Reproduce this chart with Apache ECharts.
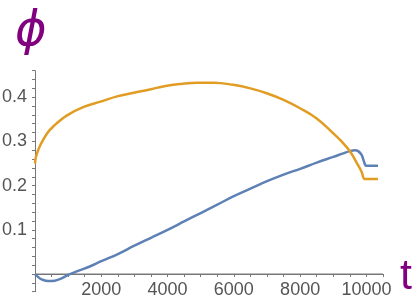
<!DOCTYPE html>
<html>
<head>
<meta charset="utf-8">
<script src="https://cdn.jsdelivr.net/npm/echarts@6/dist/echarts.min.js"></script>
<style>html,body{margin:0;padding:0;background:#fff}#c{width:417px;height:304px}</style>
</head>
<body>
<div id="c"></div>
<script>
// Blue series (phi_1)
const blueT = [0, 100, 200, 400, 600, 800, 1000, 1300, 1650, 2000, 2500, 3000, 3500, 4000, 4500, 5000, 5500, 6000, 6500, 7000, 7500, 8000, 8500, 9000, 9300, 9500, 9650, 9750, 9850, 9920, 9970, 10000, 10350];
const blueV = [0, -0.007, -0.012, -0.016, -0.015, -0.010, -0.002, 0.007, 0.017, 0.029, 0.045, 0.064, 0.082, 0.100, 0.119, 0.138, 0.157, 0.176, 0.193, 0.210, 0.225, 0.238, 0.252, 0.265, 0.273, 0.278, 0.280, 0.278, 0.270, 0.256, 0.246, 0.245, 0.245];
// Orange series (phi_2)
const orangeT = [0, 20, 60, 163, 363, 565, 967, 1471, 1976, 2477, 2982, 3500, 3900, 4400, 4900, 5400, 5982, 6500, 6990, 7500, 7997, 8500, 9003, 9250, 9507, 9710, 9850, 9940, 9970, 10350];
const orangeV = [0.250, 0.262, 0.273, 0.292, 0.318, 0.335, 0.359, 0.378, 0.390, 0.402, 0.410, 0.418, 0.425, 0.430, 0.433, 0.433, 0.428, 0.420, 0.409, 0.394, 0.375, 0.352, 0.318, 0.300, 0.277, 0.251, 0.232, 0.215, 0.215, 0.215];
// Tick labels
const xLabels = [2000, 4000, 6000, 8000, 10000];
const yLabels = [0.1, 0.2, 0.3, 0.4];
// Axis extent
const X_MIN = 0, X_MAX = 10500, Y_MIN = -0.04, Y_MAX = 0.46;

const axisColor = '#777';
const labelColor = '#555';
const font = 'Liberation Sans, Arial, sans-serif';
const GRID_LEFT = 35, GRID_W = 348, GRID_TOP = 70.7, GRID_H = 221;
// distance from grid bottom up to the y=0 line
const zeroUp = GRID_H * (0 - Y_MIN) / (Y_MAX - Y_MIN);

const pairs = (t, v) => t.map((x, i) => [x, v[i]]);
const near = (v, list) => list.some(l => Math.abs(l - v) < 1e-6);

const chart = echarts.init(document.getElementById('c'), null, {renderer: 'canvas'});
chart.setOption({
  animation: false,
  grid: {left: GRID_LEFT, top: GRID_TOP, width: GRID_W, height: GRID_H, outerBoundsMode: 'none'},
  xAxis: {type: 'value', min: X_MIN, max: X_MAX, interval: 500, position: 'bottom', offset: -zeroUp,
     axisLine: {show: true, onZero: false, lineStyle: {color: axisColor, width: 1}},
     axisTick: {show: true, length: 3, lineStyle: {color: axisColor, width: 1}},
     axisLabel: {show: true, color: labelColor, fontSize: 18, fontFamily: font, margin: 7,
                 formatter: v => near(v, xLabels) ? String(v) : ''},
     splitLine: {show: false}},
  yAxis: {type: 'value', min: Y_MIN, max: Y_MAX, interval: 0.02, position: 'left',
     axisLine: {show: true, onZero: false, lineStyle: {color: axisColor, width: 1}},
     axisTick: {show: true, length: 3, lineStyle: {color: axisColor, width: 1}},
     axisLabel: {show: true, color: labelColor, fontSize: 18, fontFamily: font, margin: 8,
                 formatter: v => near(v, yLabels) ? v.toFixed(1) : ''},
     splitLine: {show: false}},
  graphic: [
    {type: 'text', left: 15, top: 9, style: {text: 'ϕ', fill: '#800080', font: 'italic 48px "DejaVu Sans", sans-serif'}},
    {type: 'text', left: 400, top: 256, style: {text: 't', fill: '#800080', font: '43px "Liberation Sans", sans-serif'}}
  ],
  series: [
    // zero line of the t axis, drawn through the axes' scales
    {type: 'line', data: [[X_MIN, 0], [X_MAX, 0]], showSymbol: false, silent: true, z: 1,
     lineStyle: {color: axisColor, width: 1}, itemStyle: {color: axisColor}},
    {type: 'line', data: pairs(blueT, blueV), showSymbol: false, smooth: 0.4, z: 3,
     lineStyle: {color: '#5E81B5', width: 2.5}, itemStyle: {color: '#5E81B5'}},
    {type: 'line', data: pairs(orangeT, orangeV), showSymbol: false, smooth: 0.4, z: 3,
     lineStyle: {color: '#E19C24', width: 2.5}, itemStyle: {color: '#E19C24'}}
  ]
});
</script>
</body>
</html>
